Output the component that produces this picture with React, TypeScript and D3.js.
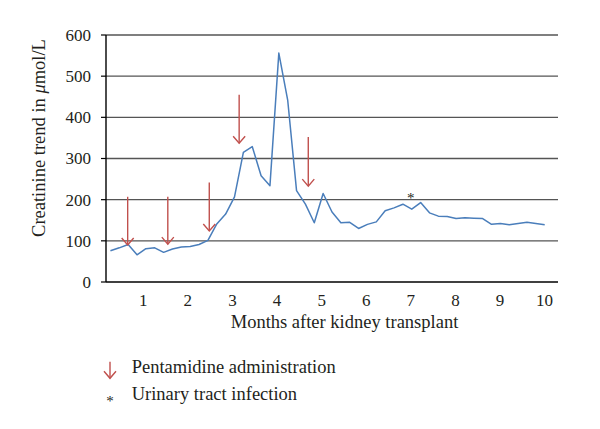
import React from "react";
import * as d3 from "d3";

const creatinine: number[] = [
  76, 83, 91, 66, 81, 83, 72, 80, 85, 86,
  91, 101, 141, 165, 207, 315, 329, 258, 234, 556,
  442, 222, 189, 144, 215, 170, 144, 145, 130, 140,
  146, 173, 180, 189, 177, 193, 168, 160, 159, 154,
  156, 155, 154, 140, 142, 139, 142, 145, 142, 139,
];
const monthTicks: number[] = [1, 2, 3, 4, 5, 6, 7, 8, 9, 10];
const yTicks: number[] = [0, 100, 200, 300, 400, 500, 600];
// Pentamidine administrations: month, arrow top value, arrow tip value
const arrowMonths: number[] = [0.65, 1.55, 2.48, 3.15, 4.7];
const arrowTop: number[] = [207, 207, 242, 455, 352];
const arrowTip: number[] = [90, 92, 124, 337, 233];
const utiMonths: number[] = [7.0];
const utiValues: number[] = [211];

const W = 600, H = 429;
const L = 106, R = 558, T = 35, B = 282;
const FONT = "Liberation Serif, DejaVu Serif, serif";
const TXT = "#231f20";
const RED = "#c0504d";
const BLUE = "#4a7ebb";
const FS_NUM = 17;
const FS_TXT = 18.5;

export default function App() {
  const xi = d3.scaleLinear().domain([-0.5, 50.5]).range([L, R]);
  const xm = d3.scaleLinear().domain([0.164, 10.3]).range([L, R]);
  const y = d3.scaleLinear().domain([0, 600]).range([B, T]);
  const line = d3
    .line<number>()
    .x((_, i) => xi(i))
    .y((d) => y(d));

  const tn = { fontFamily: FONT, fontSize: FS_NUM, fill: TXT } as React.CSSProperties;
  const tt = { fontFamily: FONT, fontSize: FS_TXT, fill: TXT } as React.CSSProperties;
  const ta = { fontFamily: FONT, fontSize: 15, fill: TXT } as React.CSSProperties;

  const arrow = (x: number, y1: number, y2: number, key: string) => (
    <g key={key} stroke={RED} strokeWidth={1.4} fill="none">
      <line x1={x} x2={x} y1={y1} y2={y2} />
      <polyline points={`${x - 6},${y2 - 7} ${x},${y2} ${x + 6},${y2 - 7}`} />
    </g>
  );

  return (
    <svg
      width={W}
      height={H}
      style={{ position: "absolute", left: 0, top: 0, background: "#fff", fontFamily: FONT }}
    >
      <rect x={0} y={0} width={W} height={H} fill="#fff" />
      {yTicks.filter((t) => t > 0).map((t) => (
        <line key={"g" + t} x1={L} x2={R} y1={y(t)} y2={y(t)} stroke="#555" strokeWidth={1.4} />
      ))}
      {yTicks.map((t) => (
        <line key={"tk" + t} x1={L - 5} x2={L} y1={y(t)} y2={y(t)} stroke="#000" strokeWidth={1.2} />
      ))}
      <line x1={L} x2={L} y1={T} y2={B} stroke="#000" strokeWidth={1.4} />
      <line x1={L} x2={R} y1={B} y2={B} stroke="#000" strokeWidth={1.4} />
      {yTicks.map((t) => (
        <text key={"yl" + t} x={L - 15} y={y(t)} dy="0.35em" textAnchor="end" style={tn}>
          {t}
        </text>
      ))}
      {monthTicks.map((m) => (
        <text key={"xl" + m} x={xm(m)} y={305.5} textAnchor="middle" style={tn}>
          {m}
        </text>
      ))}
      <text x={344.5} y={328} textAnchor="middle" style={tt}>
        Months after kidney transplant
      </text>
      <text transform={`translate(44.5,138) rotate(-90)`} textAnchor="middle" style={tt}>
        Creatinine trend in <tspan fontStyle="italic">μ</tspan>mol/L
      </text>
      <path d={line(creatinine) || ""} fill="none" stroke={BLUE} strokeWidth={1.5} strokeLinejoin="round" />
      {arrowMonths.map((m, i) => arrow(xm(m), y(arrowTop[i]), y(arrowTip[i]), "a" + i))}
      {utiMonths.map((m, i) => (
        <text key={"u" + i} x={xm(m)} y={y(utiValues[i])} dy="0.55em" textAnchor="middle" style={ta}>
          *
        </text>
      ))}
      {arrow(110, 361.7, 378.3, "legA")}
      <text x={131.7} y={373.3} style={tt}>Pentamidine administration</text>
      <text x={110} y={397.7} dy="0.55em" textAnchor="middle" style={ta}>*</text>
      <text x={131.7} y={400} style={tt}>Urinary tract infection</text>
    </svg>
  );
}
